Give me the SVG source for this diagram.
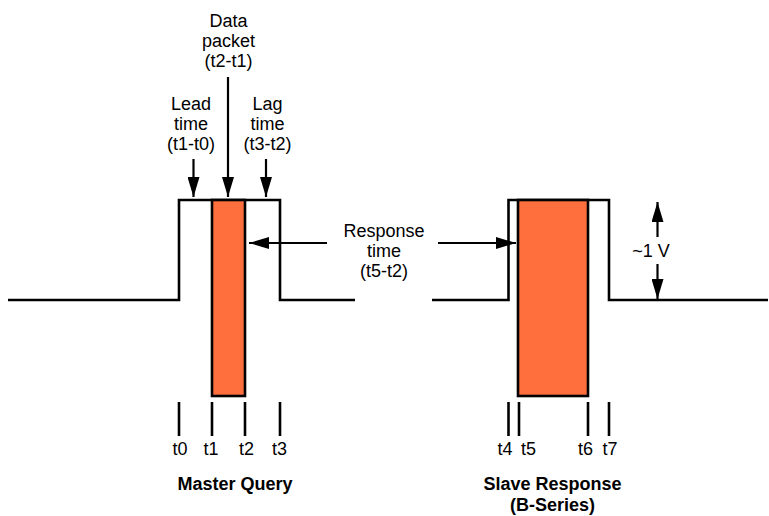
<svg xmlns="http://www.w3.org/2000/svg" width="769" height="516" viewBox="0 0 769 516">
<defs>
<style>
.wave{fill:none;stroke:#000;stroke-width:2.6}
.pkt{fill:#FF6F3D;stroke:#000;stroke-width:2.6}
.tick{stroke:#000;stroke-width:2.6}
.arr{stroke:#000;stroke-width:2.2;fill:none}
.t{font-family:"Liberation Sans",Arial,sans-serif;font-size:18px;fill:#000;text-anchor:middle}
.b{font-family:"Liberation Sans",Arial,sans-serif;font-size:18px;font-weight:bold;fill:#000;text-anchor:middle}
</style>
<marker id="ah" viewBox="0 0 20 12" refX="20" refY="6" markerWidth="20" markerHeight="12" markerUnits="userSpaceOnUse" orient="auto">
<path d="M0,0 L20,6 L0,12 Z" fill="#000"/>
</marker>
</defs>
<g id="master-wave">
<polyline class="wave" points="8,300 179,300 179,200 280,200 280,300 355,300"/>
</g>
<g id="master-packet">
<rect class="pkt" x="212" y="200" width="33" height="196"/>
</g>
<g id="slave-wave">
<polyline class="wave" points="432,300 508.5,300 508.5,200 609,200 609,300 768,300"/>
</g>
<g id="slave-packet">
<rect class="pkt" x="518" y="200" width="70" height="196"/>
</g>
<g id="ticks">
<line class="tick" x1="179" y1="402" x2="179" y2="436"/>
<line class="tick" x1="212" y1="402" x2="212" y2="436"/>
<line class="tick" x1="245" y1="402" x2="245" y2="436"/>
<line class="tick" x1="280" y1="402" x2="280" y2="436"/>
<line class="tick" x1="508.5" y1="402" x2="508.5" y2="436"/>
<line class="tick" x1="519" y1="402" x2="519" y2="436"/>
<line class="tick" x1="588" y1="402" x2="588" y2="436"/>
<line class="tick" x1="609" y1="402" x2="609" y2="436"/>
</g>
<g id="connectors">
<line class="arr" x1="228" y1="77" x2="228" y2="197" marker-end="url(#ah)"/>
<line class="arr" x1="193.5" y1="159" x2="193.5" y2="197" marker-end="url(#ah)"/>
<line class="arr" x1="266" y1="159" x2="266" y2="197" marker-end="url(#ah)"/>
<line class="arr" x1="327" y1="243" x2="249" y2="243" marker-end="url(#ah)"/>
<line class="arr" x1="438" y1="243" x2="516" y2="243" marker-end="url(#ah)"/>
<line class="arr" x1="657.5" y1="237" x2="657.5" y2="202" marker-end="url(#ah)"/>
<line class="arr" x1="657.5" y1="264" x2="657.5" y2="299" marker-end="url(#ah)"/>
</g>
<g id="label-data">
<text class="t" x="228.5" y="26.5">Data</text>
<text class="t" x="228.5" y="46.5">packet</text>
<text class="t" x="228.5" y="66.5">(t2-t1)</text>
</g>
<g id="label-lead">
<text class="t" x="191" y="110">Lead</text>
<text class="t" x="191" y="130">time</text>
<text class="t" x="191" y="150">(t1-t0)</text>
</g>
<g id="label-lag">
<text class="t" x="267.5" y="110">Lag</text>
<text class="t" x="267.5" y="130">time</text>
<text class="t" x="267.5" y="150">(t3-t2)</text>
</g>
<g id="label-response">
<text class="t" x="384" y="237">Response</text>
<text class="t" x="384" y="257">time</text>
<text class="t" x="384" y="277">(t5-t2)</text>
</g>
<g id="label-volt">
<text class="t" x="651" y="257">~1 V</text>
</g>
<g id="tick-labels">
<text class="t" x="180" y="455">t0</text>
<text class="t" x="211" y="455">t1</text>
<text class="t" x="246.5" y="455">t2</text>
<text class="t" x="279.5" y="455">t3</text>
<text class="t" x="505" y="455">t4</text>
<text class="t" x="528.5" y="455">t5</text>
<text class="t" x="585.5" y="455">t6</text>
<text class="t" x="610" y="455">t7</text>
</g>
<g id="title-master">
<text class="b" x="235" y="490">Master Query</text>
</g>
<g id="title-slave">
<text class="b" x="552.5" y="490">Slave Response</text>
<text class="b" x="552.5" y="510.5">(B-Series)</text>
</g>
</svg>
